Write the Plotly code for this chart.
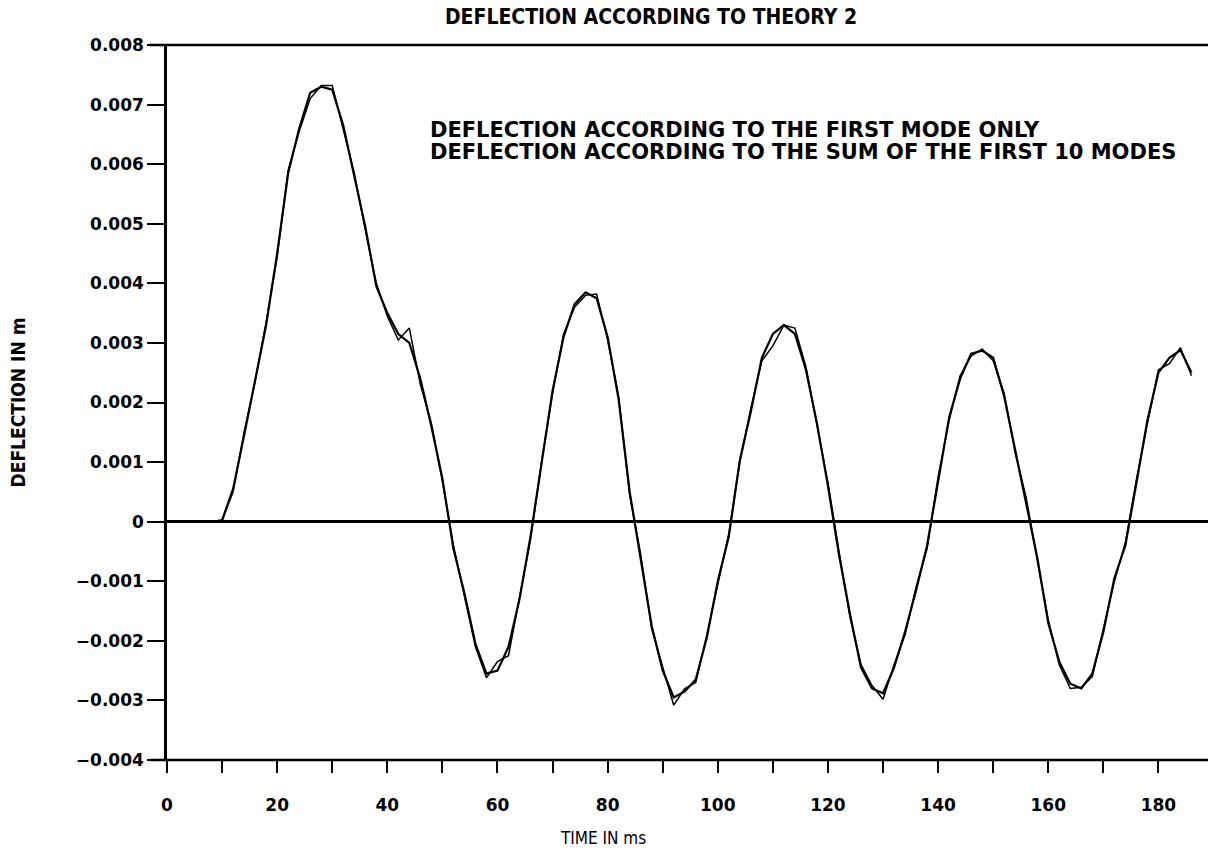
import plotly.graph_objects as go

# ---- data ----
time_ms = [0, 2, 4, 6, 8, 10, 12, 14, 16, 18, 20, 22, 24, 26, 28, 30, 32, 34, 36, 38,
           40, 42, 44, 46, 48, 50, 52, 54, 56, 58, 60, 62, 64, 66, 68, 70, 72, 74, 76, 78,
           80, 82, 84, 86, 88, 90, 92, 94, 96, 98, 100, 102, 104, 106, 108, 110, 112, 114, 116, 118,
           120, 122, 124, 126, 128, 130, 132, 134, 136, 138, 140, 142, 144, 146, 148, 150, 152, 154, 156, 158,
           160, 162, 164, 166, 168, 170, 172, 174, 176, 178, 180, 182, 184, 186]

# deflection in units of 1e-3 m
first_mode_mm = [0, 0, 0, 0, 0, 0.02, 0.55, 1.45, 2.4, 3.3, 4.5, 5.85, 6.6, 7.2, 7.3, 7.25, 6.65, 5.8, 4.95, 3.95,
                 3.5, 3.15, 3.0, 2.4, 1.6, 0.72, -0.45, -1.2, -2.05, -2.55, -2.5, -2.1, -1.3, -0.25, 0.98, 2.2, 3.1, 3.65, 3.85, 3.75,
                 3.1, 2.05, 0.5, -0.6, -1.75, -2.5, -2.95, -2.85, -2.65, -1.95, -1.0, -0.25, 1.03, 1.85, 2.75, 3.15, 3.3, 3.15, 2.55, 1.65,
                 0.6, -0.55, -1.55, -2.45, -2.8, -2.88, -2.45, -1.85, -1.15, -0.4, 0.7, 1.75, 2.4, 2.82, 2.87, 2.75, 2.1, 1.2, 0.35, -0.6,
                 -1.7, -2.35, -2.72, -2.8, -2.55, -1.85, -0.95, -0.4, 0.65, 1.7, 2.5, 2.75, 2.88, 2.5]

ten_modes_mm = [0, 0, 0, 0, 0, 0.03, 0.5, 1.5, 2.35, 3.35, 4.45, 5.9, 6.55, 7.1, 7.32, 7.32, 6.6, 5.85, 4.9, 4.0,
                3.45, 3.05, 3.25, 2.3, 1.65, 0.68, -0.4, -1.25, -2.1, -2.62, -2.35, -2.25, -1.25, -0.3, 1.0, 2.15, 3.15, 3.6, 3.8, 3.82,
                3.05, 2.1, 0.45, -0.55, -1.8, -2.45, -3.08, -2.8, -2.7, -1.9, -1.05, -0.2, 1.0, 1.9, 2.7, 2.95, 3.3, 3.25, 2.6, 1.6,
                0.65, -0.5, -1.6, -2.4, -2.75, -2.98, -2.4, -1.9, -1.1, -0.45, 0.75, 1.7, 2.45, 2.78, 2.9, 2.7, 2.15, 1.15, 0.4, -0.65,
                -1.65, -2.4, -2.8, -2.78, -2.6, -1.8, -1.0, -0.35, 0.7, 1.65, 2.55, 2.65, 2.92, 2.45]

first_mode = [v * 1e-3 for v in first_mode_mm]
ten_modes = [v * 1e-3 for v in ten_modes_mm]

y_tick_vals = [-0.004, -0.003, -0.002, -0.001, 0, 0.001, 0.002, 0.003, 0.004, 0.005, 0.006, 0.007, 0.008]
y_tick_text = ["\u22120.004", "\u22120.003", "\u22120.002", "\u22120.001", "0", "0.001", "0.002",
               "0.003", "0.004", "0.005", "0.006", "0.007", "0.008"]
x_tick_vals = [0, 20, 40, 60, 80, 100, 120, 140, 160, 180]

title_text = "DEFLECTION ACCORDING TO THEORY 2"
x_title = "TIME IN ms"
y_title = "DEFLECTION IN m"
legend_lines = ["DEFLECTION ACCORDING TO THE FIRST MODE ONLY",
                "DEFLECTION ACCORDING TO THE SUM OF THE FIRST 10 MODES"]

fig = go.Figure()
fig.add_trace(go.Scatter(x=time_ms, y=first_mode, mode="lines", name=legend_lines[0],
                         line=dict(color="black", width=2.2), showlegend=False))
fig.add_trace(go.Scatter(x=time_ms, y=ten_modes, mode="lines", name=legend_lines[1],
                         line=dict(color="black", width=1.5), showlegend=False))

W, H = 1208, 848
L, R, T, B = 167, 0, 45, 88
COND = "DejaVu Sans Condensed, DejaVu Sans"

fig.update_layout(
    width=W, height=H,
    margin=dict(l=L, r=R, t=T, b=B),
    paper_bgcolor="white", plot_bgcolor="white",
    font=dict(family="DejaVu Sans", color="black"),
    title=dict(text=title_text, x=651 / W, xanchor="center", y=1 - 17 / H, yanchor="middle",
               font=dict(family=COND, size=21, color="black", weight="bold")),
    xaxis=dict(range=[0, 189], tickvals=x_tick_vals, ticks="outside", ticklen=12, tickwidth=2,
               tickcolor="black", showgrid=False, zeroline=False, showline=False,
               ticklabelstandoff=18,
               tickfont=dict(family="DejaVu Sans", size=17, color="black", weight="bold"),
               minor=dict(dtick=10, tick0=0, ticks="outside", ticklen=12, tickwidth=2, tickcolor="black")),
    yaxis=dict(range=[-0.004, 0.008], tickvals=y_tick_vals, ticktext=y_tick_text, ticks="outside",
               ticklen=17, tickwidth=2, tickcolor="black", showgrid=False,
               zeroline=True, zerolinecolor="black", zerolinewidth=2.5,
               showline=True, linecolor="black", linewidth=2.5,
               tickfont=dict(family="DejaVu Sans", size=17, color="black", weight="bold"),
               title=dict(text=y_title, standoff=46,
                          font=dict(family=COND, size=19, color="black", weight="bold"))),
)

# top and bottom frame lines (extend slightly left of the y axis, as in the original)
for yv in (0, 1):
    fig.add_shape(type="line", xref="paper", yref="paper", x0=-17 / (W - L), x1=1, y0=yv, y1=yv,
                  line=dict(color="black", width=2.5))

# x axis title (off-centre in the original)
fig.add_annotation(text=x_title, xref="paper", yref="paper", x=(603 - L) / (W - L), xanchor="center",
                   y=1 - (838 - T) / (H - T - B), yanchor="middle", showarrow=False,
                   font=dict(family=COND, size=17, color="black"))

# legend texts (no line samples in the original)
for i, txt in enumerate(legend_lines):
    fig.add_annotation(text=txt, xref="paper", yref="paper",
                       x=(428 - L) / (W - L), xanchor="left",
                       y=1 - (130 + 22 * i - T) / (H - T - B), yanchor="middle",
                       showarrow=False, font=dict(family="DejaVu Sans", size=21, color="black",
                                                  weight="bold"))

fig.write_html("out.html")
